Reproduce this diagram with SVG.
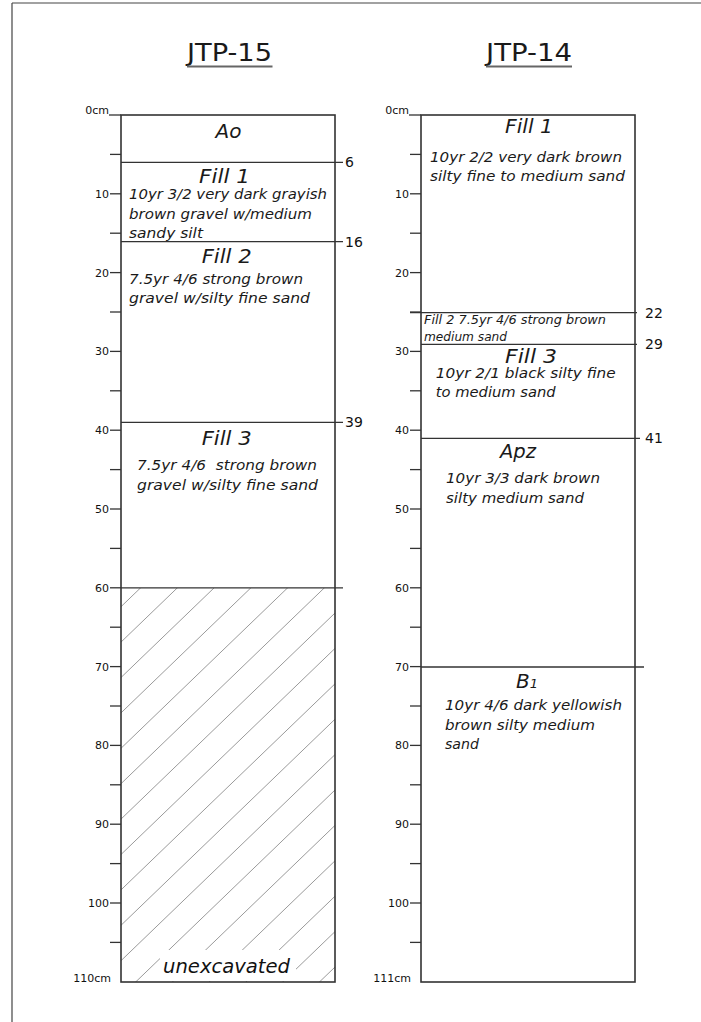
<svg xmlns="http://www.w3.org/2000/svg" width="701" height="1022" viewBox="0 0 701 1022">
<style>
.bg{fill:#ffffff}
.frame{fill:none;stroke:#444;stroke-width:1.2}
.col{fill:none;stroke:#333;stroke-width:1.6}
.tick{stroke:#333;stroke-width:1.3}
.layer{stroke:#333;stroke-width:1.3}
.hatch{stroke:#9a9a9a;stroke-width:1}
.title{font-family:"DejaVu Sans","Liberation Sans",sans-serif;font-size:25px;fill:#1a1a1a}
.uline{stroke:#666;stroke-width:2}
.scale{font-family:"DejaVu Sans","Liberation Sans",sans-serif;font-size:11px;fill:#111}
.depth{font-family:"DejaVu Sans","Liberation Sans",sans-serif;font-size:14px;fill:#111}
.name{font-family:"DejaVu Sans","Liberation Sans",sans-serif;font-style:italic;font-size:20px;fill:#1a1a1a}
.desc{font-family:"DejaVu Sans","Liberation Sans",sans-serif;font-style:italic;font-size:14.5px;fill:#1a1a1a}
.small{font-family:"DejaVu Sans","Liberation Sans",sans-serif;font-style:italic;font-size:12px;fill:#1a1a1a}
.unex{font-family:"DejaVu Sans","Liberation Sans",sans-serif;font-style:italic;font-size:19px;fill:#111}
</style>
<defs>
<clipPath id="hclip"><rect x="121" y="588" width="214" height="394"/></clipPath>
</defs>
<rect class="bg" x="0" y="0" width="701" height="1022"/>
<g id="page-frame">
<line class="frame" x1="12" y1="3" x2="12" y2="1022"/>
<line class="frame" x1="12" y1="3" x2="701" y2="3"/>
</g>

<g id="title-jtp15">
<text class="title" x="187" y="61" textLength="85" lengthAdjust="spacingAndGlyphs">JTP-15</text>
<line class="uline" x1="187" y1="66.5" x2="272.5" y2="66.5"/>
</g>
<g id="title-jtp14">
<text class="title" x="486" y="61" textLength="86" lengthAdjust="spacingAndGlyphs">JTP-14</text>
<line class="uline" x1="486" y1="66.5" x2="572" y2="66.5"/>
</g>

<g id="jtp15-hatch">
<g clip-path="url(#hclip)">
<line class="hatch" x1="121" y1="606.7" x2="335" y2="400.6"/>
<line class="hatch" x1="121" y1="642.1" x2="335" y2="436.0"/>
<line class="hatch" x1="121" y1="677.5" x2="335" y2="471.4"/>
<line class="hatch" x1="121" y1="712.9" x2="335" y2="506.8"/>
<line class="hatch" x1="121" y1="748.3" x2="335" y2="542.2"/>
<line class="hatch" x1="121" y1="783.7" x2="335" y2="577.6"/>
<line class="hatch" x1="121" y1="819.1" x2="335" y2="613.0"/>
<line class="hatch" x1="121" y1="854.5" x2="335" y2="648.4"/>
<line class="hatch" x1="121" y1="889.9" x2="335" y2="683.8"/>
<line class="hatch" x1="121" y1="925.3" x2="335" y2="719.2"/>
<line class="hatch" x1="121" y1="960.7" x2="335" y2="754.6"/>
<line class="hatch" x1="121" y1="996.1" x2="335" y2="790.0"/>
<line class="hatch" x1="121" y1="1031.5" x2="335" y2="825.4"/>
<line class="hatch" x1="121" y1="1066.9" x2="335" y2="860.8"/>
<line class="hatch" x1="121" y1="1102.3" x2="335" y2="896.2"/>
<line class="hatch" x1="121" y1="1137.7" x2="335" y2="931.6"/>
<line class="hatch" x1="121" y1="1173.1" x2="335" y2="967.0"/>
<line class="hatch" x1="121" y1="1208.5" x2="335" y2="1002.4"/>
</g>
<rect x="160" y="950" width="136" height="31" fill="#ffffff"/>
<text class="unex" x="163" y="972.5" textLength="127" lengthAdjust="spacingAndGlyphs">unexcavated</text>
</g>

<g id="jtp15-column">
<rect class="col" x="121" y="115" width="214" height="867"/>
</g>

<g id="jtp15-scale">
<line class="tick" x1="109" y1="115" x2="121" y2="115"/>
<line class="tick" x1="110" y1="154.4" x2="121" y2="154.4"/>
<line class="tick" x1="110" y1="193.8" x2="121" y2="193.8"/>
<line class="tick" x1="110" y1="233.2" x2="121" y2="233.2"/>
<line class="tick" x1="110" y1="272.6" x2="121" y2="272.6"/>
<line class="tick" x1="110" y1="312" x2="121" y2="312"/>
<line class="tick" x1="110" y1="351.4" x2="121" y2="351.4"/>
<line class="tick" x1="110" y1="390.8" x2="121" y2="390.8"/>
<line class="tick" x1="110" y1="430.2" x2="121" y2="430.2"/>
<line class="tick" x1="110" y1="469.6" x2="121" y2="469.6"/>
<line class="tick" x1="110" y1="509" x2="121" y2="509"/>
<line class="tick" x1="110" y1="548.4" x2="121" y2="548.4"/>
<line class="tick" x1="110" y1="587.8" x2="121" y2="587.8"/>
<line class="tick" x1="110" y1="627.2" x2="121" y2="627.2"/>
<line class="tick" x1="110" y1="666.6" x2="121" y2="666.6"/>
<line class="tick" x1="110" y1="706" x2="121" y2="706"/>
<line class="tick" x1="110" y1="745.4" x2="121" y2="745.4"/>
<line class="tick" x1="110" y1="784.8" x2="121" y2="784.8"/>
<line class="tick" x1="110" y1="824.2" x2="121" y2="824.2"/>
<line class="tick" x1="110" y1="863.6" x2="121" y2="863.6"/>
<line class="tick" x1="110" y1="903" x2="121" y2="903"/>
<line class="tick" x1="110" y1="942.4" x2="121" y2="942.4"/>
<text class="scale" x="109" y="114" text-anchor="end">0cm</text>
<text class="scale" x="109" y="197.8" text-anchor="end">10</text>
<text class="scale" x="109" y="276.6" text-anchor="end">20</text>
<text class="scale" x="109" y="355.4" text-anchor="end">30</text>
<text class="scale" x="109" y="434.2" text-anchor="end">40</text>
<text class="scale" x="109" y="513" text-anchor="end">50</text>
<text class="scale" x="109" y="591.8" text-anchor="end">60</text>
<text class="scale" x="109" y="670.6" text-anchor="end">70</text>
<text class="scale" x="109" y="749.4" text-anchor="end">80</text>
<text class="scale" x="109" y="828.2" text-anchor="end">90</text>
<text class="scale" x="109" y="907" text-anchor="end">100</text>
<text class="scale" x="111" y="982" text-anchor="end">110cm</text>
</g>

<g id="jtp15-ao">
<text class="name" x="228.5" y="138" text-anchor="middle">Ao</text>
</g>
<g id="jtp15-fill1">
<line class="layer" x1="121" y1="162.3" x2="343" y2="162.3"/>
<text class="depth" x="345" y="167">6</text>
<text class="name" x="199" y="183.3" textLength="51" lengthAdjust="spacingAndGlyphs">Fill 1</text>
<text class="desc" x="129" y="199.3" textLength="198" lengthAdjust="spacingAndGlyphs">10yr 3/2 very dark grayish</text>
<text class="desc" x="129" y="219" textLength="183" lengthAdjust="spacingAndGlyphs">brown gravel w/medium</text>
<text class="desc" x="129" y="237.7" textLength="74" lengthAdjust="spacingAndGlyphs">sandy silt</text>
</g>
<g id="jtp15-fill2">
<line class="layer" x1="121" y1="241.7" x2="343" y2="241.7"/>
<text class="depth" x="345" y="246.5">16</text>
<text class="name" x="201.7" y="263.3" textLength="50" lengthAdjust="spacingAndGlyphs">Fill 2</text>
<text class="desc" x="129" y="284.3" textLength="174" lengthAdjust="spacingAndGlyphs">7.5yr 4/6 strong brown</text>
<text class="desc" x="129" y="303.3" textLength="181" lengthAdjust="spacingAndGlyphs">gravel w/silty fine sand</text>
</g>
<g id="jtp15-fill3">
<line class="layer" x1="121" y1="422.3" x2="343" y2="422.3"/>
<text class="depth" x="345" y="427">39</text>
<text class="name" x="201.7" y="445" textLength="50" lengthAdjust="spacingAndGlyphs">Fill 3</text>
<text class="desc" x="137" y="470" textLength="180" lengthAdjust="spacingAndGlyphs" xml:space="preserve">7.5yr 4/6  strong brown</text>
<text class="desc" x="137" y="490" textLength="181" lengthAdjust="spacingAndGlyphs">gravel w/silty fine sand</text>
</g>
<g id="jtp15-unexcavated-top">
<line class="layer" x1="121" y1="587.8" x2="343" y2="587.8"/>
</g>

<g id="jtp14-column">
<rect class="col" x="421" y="115" width="214" height="867"/>
</g>

<g id="jtp14-scale">
<line class="tick" x1="409" y1="115" x2="421" y2="115"/>
<line class="tick" x1="410" y1="154.4" x2="421" y2="154.4"/>
<line class="tick" x1="410" y1="193.8" x2="421" y2="193.8"/>
<line class="tick" x1="410" y1="233.2" x2="421" y2="233.2"/>
<line class="tick" x1="410" y1="272.6" x2="421" y2="272.6"/>
<line class="tick" x1="410" y1="312" x2="421" y2="312"/>
<line class="tick" x1="410" y1="351.4" x2="421" y2="351.4"/>
<line class="tick" x1="410" y1="390.8" x2="421" y2="390.8"/>
<line class="tick" x1="410" y1="430.2" x2="421" y2="430.2"/>
<line class="tick" x1="410" y1="469.6" x2="421" y2="469.6"/>
<line class="tick" x1="410" y1="509" x2="421" y2="509"/>
<line class="tick" x1="410" y1="548.4" x2="421" y2="548.4"/>
<line class="tick" x1="410" y1="587.8" x2="421" y2="587.8"/>
<line class="tick" x1="410" y1="627.2" x2="421" y2="627.2"/>
<line class="tick" x1="410" y1="666.6" x2="421" y2="666.6"/>
<line class="tick" x1="410" y1="706" x2="421" y2="706"/>
<line class="tick" x1="410" y1="745.4" x2="421" y2="745.4"/>
<line class="tick" x1="410" y1="784.8" x2="421" y2="784.8"/>
<line class="tick" x1="410" y1="824.2" x2="421" y2="824.2"/>
<line class="tick" x1="410" y1="863.6" x2="421" y2="863.6"/>
<line class="tick" x1="410" y1="903" x2="421" y2="903"/>
<line class="tick" x1="410" y1="942.4" x2="421" y2="942.4"/>
<text class="scale" x="409" y="114" text-anchor="end">0cm</text>
<text class="scale" x="409" y="197.8" text-anchor="end">10</text>
<text class="scale" x="409" y="276.6" text-anchor="end">20</text>
<text class="scale" x="409" y="355.4" text-anchor="end">30</text>
<text class="scale" x="409" y="434.2" text-anchor="end">40</text>
<text class="scale" x="409" y="513" text-anchor="end">50</text>
<text class="scale" x="409" y="591.8" text-anchor="end">60</text>
<text class="scale" x="409" y="670.6" text-anchor="end">70</text>
<text class="scale" x="409" y="749.4" text-anchor="end">80</text>
<text class="scale" x="409" y="828.2" text-anchor="end">90</text>
<text class="scale" x="409" y="907" text-anchor="end">100</text>
<text class="scale" x="411" y="982" text-anchor="end">111cm</text>
</g>

<g id="jtp14-fill1">
<text class="name" x="505" y="133.3" textLength="48" lengthAdjust="spacingAndGlyphs">Fill 1</text>
<text class="desc" x="430" y="161.7" textLength="192" lengthAdjust="spacingAndGlyphs">10yr 2/2 very dark brown</text>
<text class="desc" x="430" y="181" textLength="195" lengthAdjust="spacingAndGlyphs">silty fine to medium sand</text>
</g>
<g id="jtp14-fill2">
<line class="layer" x1="410" y1="312.7" x2="637" y2="312.7"/>
<text class="depth" x="645" y="317.5">22</text>
<text class="small" x="424" y="324" textLength="182" lengthAdjust="spacingAndGlyphs">Fill 2 7.5yr 4/6 strong brown</text>
<text class="small" x="424" y="340.7" textLength="83" lengthAdjust="spacingAndGlyphs">medium sand</text>
</g>
<g id="jtp14-fill3">
<line class="layer" x1="421" y1="344.3" x2="637" y2="344.3"/>
<text class="depth" x="645" y="349">29</text>
<text class="name" x="505" y="362.8" font-size="19px" textLength="52" lengthAdjust="spacingAndGlyphs">Fill 3</text>
<text class="desc" x="435.7" y="378.2" textLength="180" lengthAdjust="spacingAndGlyphs">10yr 2/1 black silty fine</text>
<text class="desc" x="435.7" y="396.9" textLength="120" lengthAdjust="spacingAndGlyphs">to medium sand</text>
</g>
<g id="jtp14-apz">
<line class="layer" x1="421" y1="438.3" x2="640" y2="438.3"/>
<text class="depth" x="645" y="443">41</text>
<text class="name" x="500" y="458.3" textLength="36" lengthAdjust="spacingAndGlyphs">Apz</text>
<text class="desc" x="446" y="483.3" textLength="154" lengthAdjust="spacingAndGlyphs">10yr 3/3 dark brown</text>
<text class="desc" x="446" y="503.3" textLength="138" lengthAdjust="spacingAndGlyphs">silty medium sand</text>
</g>
<g id="jtp14-b1">
<line class="layer" x1="421" y1="667" x2="644" y2="667"/>
<text class="name" x="516" y="687.7">B<tspan font-size="13px">1</tspan></text>
<text class="desc" x="445" y="710" textLength="177" lengthAdjust="spacingAndGlyphs">10yr 4/6 dark yellowish</text>
<text class="desc" x="445" y="730" textLength="150" lengthAdjust="spacingAndGlyphs">brown silty medium</text>
<text class="desc" x="445" y="749.3" textLength="34" lengthAdjust="spacingAndGlyphs">sand</text>
</g>
</svg>
